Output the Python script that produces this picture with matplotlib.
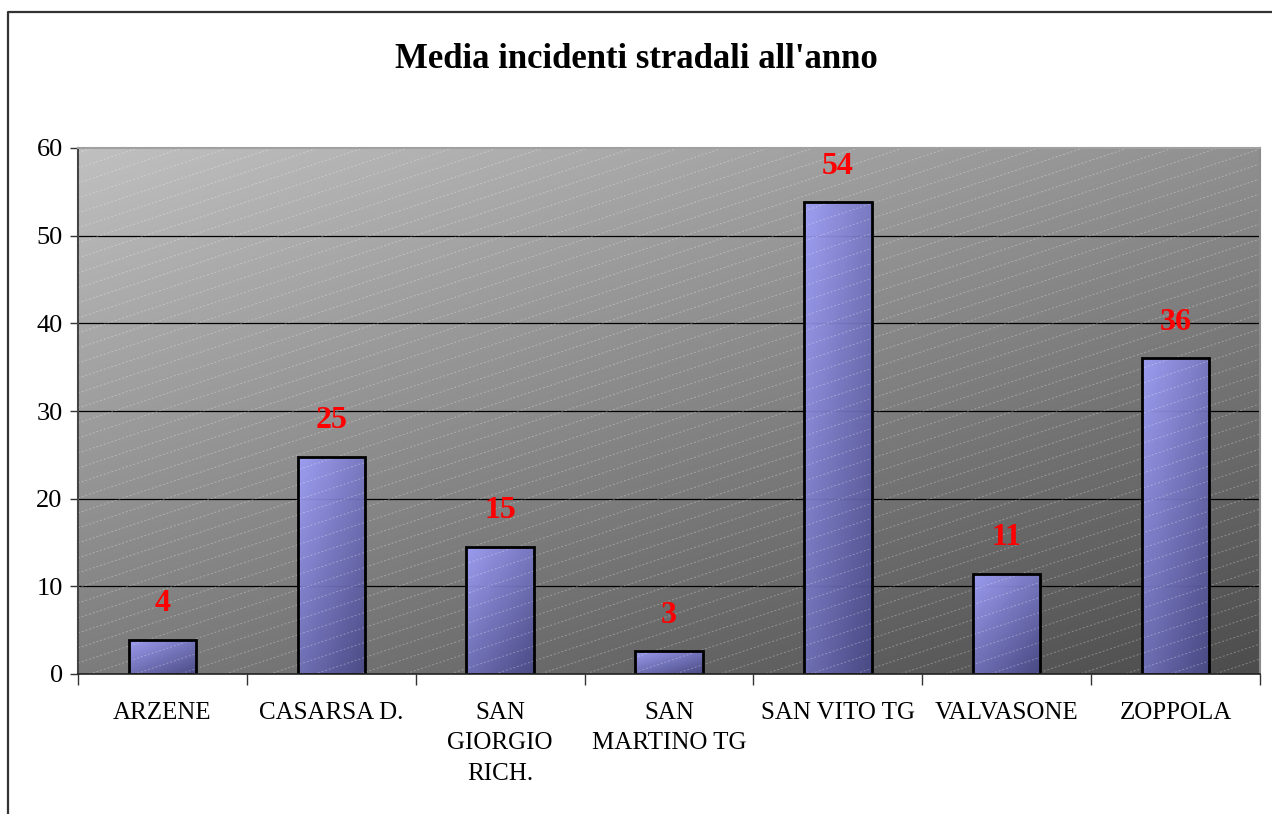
import numpy as np
import matplotlib
matplotlib.use("Agg")
import matplotlib.pyplot as plt
from matplotlib.lines import Line2D

categories = ["ARZENE", "CASARSA D.", "SAN\nGIORGIO\nRICH.", "SAN\nMARTINO TG",
              "SAN VITO TG", "VALVASONE", "ZOPPOLA"]
values = [3.9, 24.8, 14.5, 2.6, 53.8, 11.4, 36.0]
value_labels = ["4", "25", "15", "3", "54", "11", "36"]
yticks = [0, 10, 20, 30, 40, 50, 60]
title = "Media incidenti stradali all'anno"

plt.rcParams['font.family'] = ['Liberation Serif', 'DejaVu Serif']

W, H = 1272, 814
fig = plt.figure(figsize=(W / 100, H / 100), dpi=100)
ax = fig.add_axes([78 / W, 1 - 674 / H, (1260 - 78) / W, (674 - 148) / H])

n = len(categories)
x = np.arange(n)
ax.set_xlim(-0.5, n - 0.5)
ax.set_ylim(0, 60)

# background gradient
gx, gy = np.meshgrid(np.linspace(0, 1, 300), np.linspace(0, 1, 200))
bg = (192 - 48 * gx - 68 * gy) / 255.0  # gy: 0 at top (origin upper)
bg_rgb = np.dstack([bg, bg, bg])
ax.imshow(bg_rgb, extent=[0, 1, 0, 1], transform=ax.transAxes, aspect='auto',
          zorder=0, origin='upper', interpolation='bilinear')

# grid lines
for t in yticks[1:-1]:
    ax.axhline(t, color='black', lw=0.9, zorder=1)

# bars
bw = 0.4
bars = ax.bar(x, values, width=bw, facecolor='none', edgecolor='black', lw=2.0, zorder=4)
light = np.array([160, 160, 250]) / 255.0
dark = np.array([72, 72, 135]) / 255.0
for rect in bars:
    x0, y0 = rect.get_x(), rect.get_y()
    w, h = rect.get_width(), rect.get_height()
    u, v = np.meshgrid(np.linspace(0, 1, 60), np.linspace(0, 1, 200))
    t = np.clip(0.45 * u + 0.55 * v, 0, 1)  # v: 0 top -> 1 bottom
    img = light[None, None, :] * (1 - t[..., None]) + dark[None, None, :] * t[..., None]
    im = ax.imshow(img, extent=[x0, x0 + w, y0, y0 + h], aspect='auto', origin='upper',
                   zorder=2, interpolation='bilinear', alpha=0.93)
    im.set_clip_path(rect)

# diagonal dashed hatch lines (decor)
axw, axh = 1260 - 78, 674 - 148
slope_px = 1 / 3.0
spacing_px = 15.0
xs_px = np.array([0, axw])
for c in np.arange(-axw * slope_px - spacing_px, axh + spacing_px, spacing_px):
    ys_px = c + xs_px * slope_px
    ax.plot(xs_px / axw, ys_px / axh, transform=ax.transAxes, color='white',
            lw=0.7, alpha=0.3, ls=(0, (2, 2)), zorder=3, clip_on=True)

# value labels
for xi, v, lab in zip(x, values, value_labels):
    ax.annotate(lab, (xi, v), xytext=(0, 26), textcoords='offset points',
                ha='center', va='center', color='#ff0000', fontsize=23,
                fontweight='bold', zorder=6)

# axes styling
ax.set_yticks(yticks)
ax.set_yticklabels([str(t) for t in yticks], fontsize=19)
ax.tick_params(axis='y', direction='out', length=6, width=1, color='#333333', pad=5)
ax.set_xticks(x)
ax.set_xticklabels(categories, fontsize=18, linespacing=1.5, va='top')
ax.tick_params(axis='x', which='major', length=0, pad=20)
ax.set_xticks(np.arange(-0.5, n, 1.0), minor=True)
ax.tick_params(axis='x', which='minor', direction='out', length=8, width=1, color='#333333')

ax.spines['left'].set_color('#444444')
ax.spines['left'].set_linewidth(1.5)
ax.spines['bottom'].set_color('#222222')
ax.spines['bottom'].set_linewidth(1.2)
ax.spines['top'].set_color('#a0a0a0')
ax.spines['top'].set_linewidth(1.5)
ax.spines['right'].set_color('#8a8a8a')
ax.spines['right'].set_linewidth(1.5)
for s in ax.spines.values():
    s.set_zorder(5)

fig.text(0.5, 1 - 59 / H, title, ha='center', va='center', fontsize=25, fontweight='bold')

# outer frame (left and top only, as in reference)
fx = 8 / W
fy = 1 - 12 / H
fig.add_artist(Line2D([fx, fx, 1.0], [0.0, fy, fy], transform=fig.transFigure,
                      color='#333333', lw=1.6))

fig.savefig("out.png", dpi=100)
